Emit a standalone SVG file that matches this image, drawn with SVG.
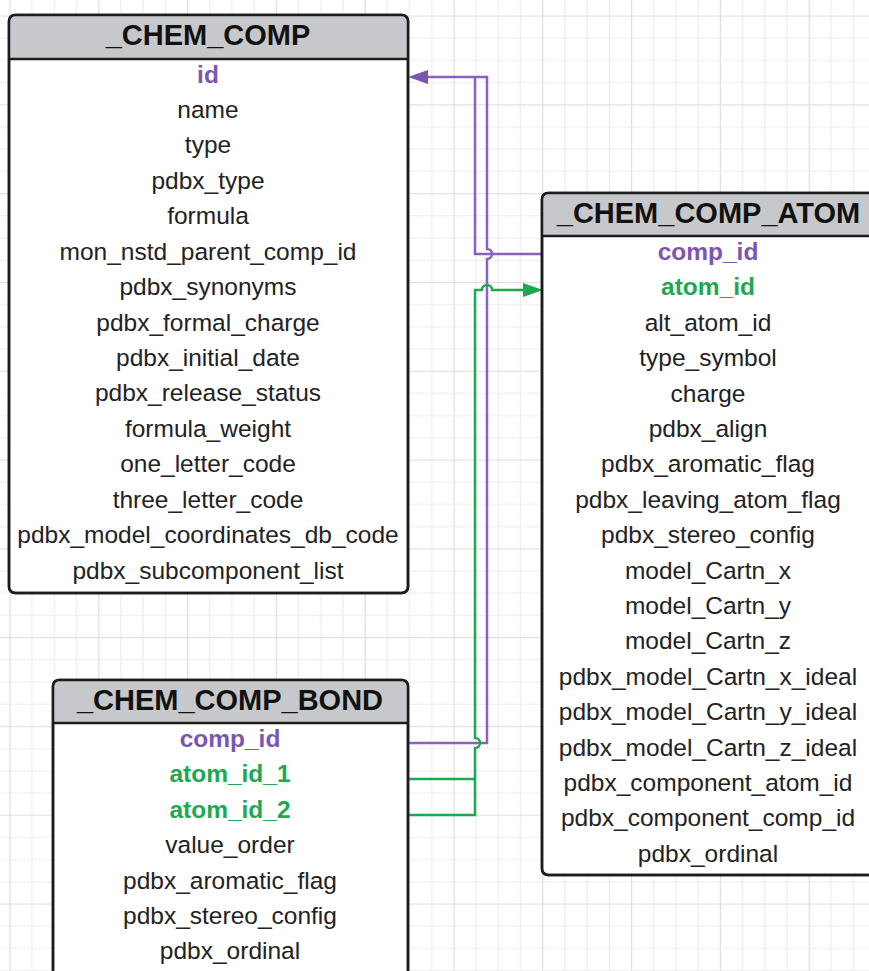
<svg xmlns="http://www.w3.org/2000/svg" width="869" height="971" viewBox="0 0 869 971">
<style>
.box{fill:#ffffff;stroke:#1c1c1c;stroke-width:2.5}
.hdr{fill:#c7c8cb}
.sep{stroke:#1c1c1c;stroke-width:2.5}
.title{font-family:"Liberation Sans",Arial,sans-serif;font-weight:bold;font-size:29px;fill:#111;text-anchor:middle}
.row{font-family:"Liberation Sans",Arial,sans-serif;font-size:24.5px;fill:#222;text-anchor:middle}
.pk{fill:#7d55b0;font-weight:bold}
.fk{fill:#1ea84f;font-weight:bold}
.cp{fill:none;stroke:#8a62bd;stroke-width:2.5}
.cg{fill:none;stroke:#1ea84f;stroke-width:2.5}
</style>
<defs>
<pattern id="grid" patternUnits="userSpaceOnUse" x="9.4" y="15.5" width="88.8" height="88.8">
<rect x="0" y="0" width="1.2" height="88.8" fill="#dcdde1"/>
<rect x="22.2" y="0" width="1" height="88.8" fill="#e8e9ec"/>
<rect x="44.4" y="0" width="1" height="88.8" fill="#e8e9ec"/>
<rect x="66.6" y="0" width="1" height="88.8" fill="#e8e9ec"/>
<rect x="0" y="0" width="88.8" height="1.2" fill="#dfe0e3"/>
<rect x="0" y="22.2" width="88.8" height="1" fill="#eaebed"/>
<rect x="0" y="44.4" width="88.8" height="1" fill="#eaebed"/>
<rect x="0" y="66.6" width="88.8" height="1" fill="#eaebed"/>
</pattern>
<marker id="ap" markerUnits="userSpaceOnUse" viewBox="0 0 20 14" markerWidth="20" markerHeight="14" refX="0" refY="7" orient="auto">
<path d="M0 0 L20 7 L0 14 Z" fill="#7d55b0"/>
</marker>
<marker id="ag" markerUnits="userSpaceOnUse" viewBox="0 0 20 14" markerWidth="20" markerHeight="14" refX="0" refY="7" orient="auto">
<path d="M0 0 L20 7 L0 14 Z" fill="#1ea84f"/>
</marker>
</defs>
<rect x="0" y="0" width="869" height="971" fill="#ffffff"/>
<rect x="0" y="0" width="869" height="971" fill="url(#grid)"/>

<g id="connectors">
<path class="cp" d="M542 254 H475 V77"/>
<path class="cp" d="M408 743 H487 V259 A5 5 0 0 0 487 249 V77 H428" marker-end="url(#ap)"/>
<path class="cg" d="M408 779 H475"/>
<path class="cg" d="M408 815 H475 V748 A5 5 0 0 0 475 738 V290 H482 A5 5 0 0 1 492 290 H523" marker-end="url(#ag)"/>
</g>

<g id="chem_comp">
<rect class="box" x="9" y="15" width="399" height="578" rx="6"/>
<path class="hdr" d="M10.3 59 V21 Q10.3 16.3 16 16.3 H401 Q406.7 16.3 406.7 21 V59 Z"/>
<line class="sep" x1="9" y1="59" x2="408" y2="59"/>
<rect x="9" y="15" width="399" height="578" rx="6" fill="none" stroke="#1c1c1c" stroke-width="2.5"/>
<text class="title" x="208" y="45">_CHEM_COMP</text>
<text class="row pk" x="208" y="82.5">id</text>
<text class="row" x="208" y="117.9">name</text>
<text class="row" x="208" y="153.4">type</text>
<text class="row" x="208" y="188.8">pdbx_type</text>
<text class="row" x="208" y="224.2">formula</text>
<text class="row" x="208" y="259.7">mon_nstd_parent_comp_id</text>
<text class="row" x="208" y="295.1">pdbx_synonyms</text>
<text class="row" x="208" y="330.5">pdbx_formal_charge</text>
<text class="row" x="208" y="365.9">pdbx_initial_date</text>
<text class="row" x="208" y="401.4">pdbx_release_status</text>
<text class="row" x="208" y="436.8">formula_weight</text>
<text class="row" x="208" y="472.2">one_letter_code</text>
<text class="row" x="208" y="507.7">three_letter_code</text>
<text class="row" x="208" y="543.1">pdbx_model_coordinates_db_code</text>
<text class="row" x="208" y="578.5">pdbx_subcomponent_list</text>
</g>

<g id="chem_comp_atom">
<rect class="box" x="542" y="193" width="334" height="682" rx="6"/>
<path class="hdr" d="M543.3 236 V199 Q543.3 194.3 549 194.3 H876 V236 Z"/>
<line class="sep" x1="542" y1="236" x2="876" y2="236"/>
<rect x="542" y="193" width="334" height="682" rx="6" fill="none" stroke="#1c1c1c" stroke-width="2.5"/>
<text class="title" x="708.5" y="223">_CHEM_COMP_ATOM</text>
<text class="row pk" x="708" y="260">comp_id</text>
<text class="row fk" x="708" y="295.4">atom_id</text>
<text class="row" x="708" y="330.8">alt_atom_id</text>
<text class="row" x="708" y="366.2">type_symbol</text>
<text class="row" x="708" y="401.6">charge</text>
<text class="row" x="708" y="437">pdbx_align</text>
<text class="row" x="708" y="472.4">pdbx_aromatic_flag</text>
<text class="row" x="708" y="507.8">pdbx_leaving_atom_flag</text>
<text class="row" x="708" y="543.2">pdbx_stereo_config</text>
<text class="row" x="708" y="578.6">model_Cartn_x</text>
<text class="row" x="708" y="614">model_Cartn_y</text>
<text class="row" x="708" y="649.4">model_Cartn_z</text>
<text class="row" x="708" y="684.8">pdbx_model_Cartn_x_ideal</text>
<text class="row" x="708" y="720.2">pdbx_model_Cartn_y_ideal</text>
<text class="row" x="708" y="755.6">pdbx_model_Cartn_z_ideal</text>
<text class="row" x="708" y="791">pdbx_component_atom_id</text>
<text class="row" x="708" y="826.4">pdbx_component_comp_id</text>
<text class="row" x="708" y="861.8">pdbx_ordinal</text>
</g>

<g id="chem_comp_bond">
<rect class="box" x="53" y="680" width="355" height="310" rx="6"/>
<path class="hdr" d="M54.3 723 V686 Q54.3 681.3 60 681.3 H401 Q406.7 681.3 406.7 686 V723 Z"/>
<line class="sep" x1="53" y1="723" x2="408" y2="723"/>
<rect x="53" y="680" width="355" height="310" rx="6" fill="none" stroke="#1c1c1c" stroke-width="2.5"/>
<text class="title" x="230" y="710">_CHEM_COMP_BOND</text>
<text class="row pk" x="230" y="747">comp_id</text>
<text class="row fk" x="230" y="782.4">atom_id_1</text>
<text class="row fk" x="230" y="817.8">atom_id_2</text>
<text class="row" x="230" y="853.2">value_order</text>
<text class="row" x="230" y="888.6">pdbx_aromatic_flag</text>
<text class="row" x="230" y="924">pdbx_stereo_config</text>
<text class="row" x="230" y="959.4">pdbx_ordinal</text>
</g>
</svg>
